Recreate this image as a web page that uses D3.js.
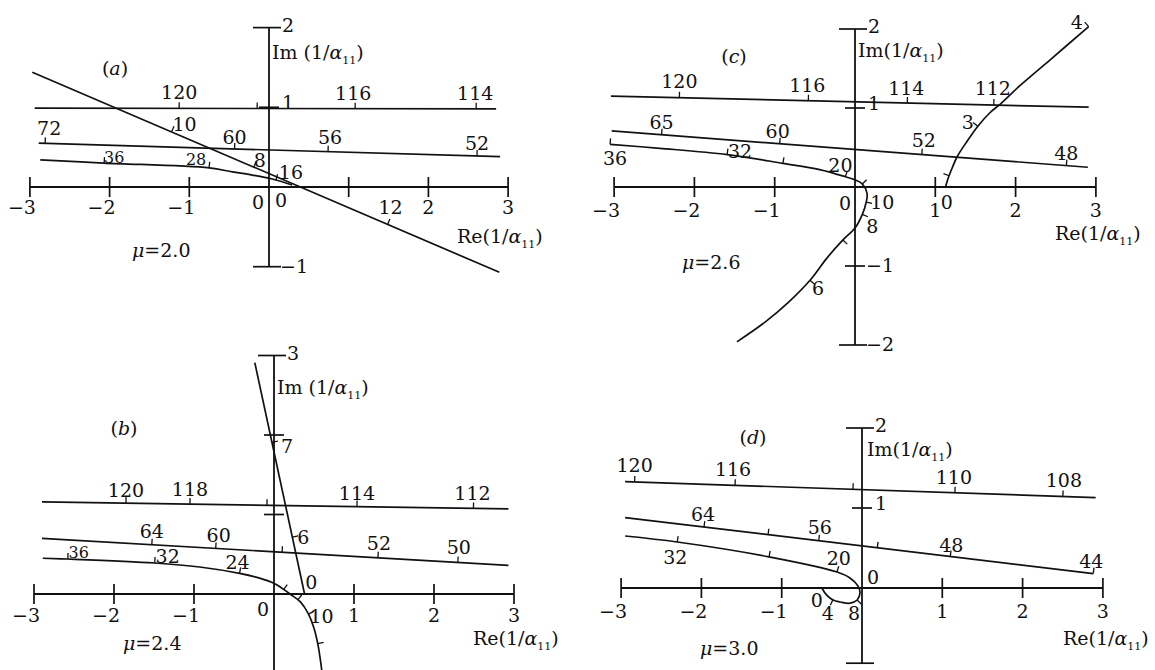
<!DOCTYPE html>
<html>
<head>
<meta charset="utf-8">
<script src="https://cdn.jsdelivr.net/npm/d3@7"></script>
<style>
  body { margin: 0; background: #fff; }
  svg { display: block; }
  text { font-family: "DejaVu Serif", "Liberation Serif", serif; fill: #111; }
</style>
</head>
<body>
<svg id="fig" width="1155" height="670"></svg>
<script>
// ---------- data: loci of 1/alpha11 in the complex plane (Re, Im) ----------
const xTickValues = [-3, -2, -1, 0, 1, 2, 3];

// (a) mu = 2.0
const aLineSlant = [[-2.97, 1.44], [2.89, -1.07]];
const aLineSlantTicks = [[-1.22, 0.69, "10"], [-0.19, 0.25, "8"], [1.49, -0.47, "12"]];
const aLine120 = [[-2.94, 0.99], [2.85, 0.98]];
const aLine120Ticks = [[-1.13, 0.99, "120"], [-0.15, 0.99, ""], [1.08, 0.985, "116"], [2.6, 0.98, "114"]];
const aLine72 = [[-2.89, 0.55], [2.90, 0.38]];
const aLine72Ticks = [[-2.81, 0.54, "72"], [-0.43, 0.47, "60"], [0.74, 0.43, "56"], [2.61, 0.39, "52"]];
const aCurve36 = [[-2.87, 0.34], [-2.07, 0.30], [-0.75, 0.24], [-0.46, 0.19], [-0.21, 0.15], [0.04, 0.10], [0.29, 0.025]];
const aCurve36Ticks = [[-2.07, 0.30, "36"], [-0.75, 0.24, "28"], [0.09, 0.09, "16"], [0.29, 0.025, "0"]];
const aXLabels = [-3, -2, -1, 2, 3];
const aYLabels = [2, 1, -1];

// (b) mu = 2.4
const bLineSteep = [[-0.24, 2.91], [0.38, 0.01]];
const bLineSteepTicks = [[-0.01, 1.91, "7"], [0.26, 0.72, "6"], [0.38, 0.01, "0"]];
const bLine120 = [[-2.90, 1.16], [2.93, 1.07]];
const bLine120Ticks = [[-1.85, 1.143, "120"], [-1.05, 1.131, "118"], [-0.09, 1.116, ""], [1.04, 1.099, "114"], [2.49, 1.076, "112"]];
const bLine64 = [[-2.90, 0.70], [2.93, 0.36]];
const bLine64Ticks = [[-1.53, 0.62, "64"], [-0.73, 0.575, "60"], [0.10, 0.525, ""], [1.30, 0.455, "52"], [2.30, 0.397, "50"]];
const bCurve36 = [[-2.89, 0.45], [-2.58, 0.44], [-1.49, 0.39], [-0.93, 0.34], [-0.43, 0.26], [-0.18, 0.20], [0.01, 0.13],
                  [0.20, 0.0], [0.33, -0.10], [0.43, -0.25], [0.50, -0.43], [0.55, -0.64], [0.60, -0.98]];
const bCurve36Ticks = [[-2.58, 0.44, "36"], [-1.49, 0.39, "32"], [-0.43, 0.26, "24"], [0.14, 0.08, ""], [0.30, -0.07, ""],
                       [0.43, -0.25, "10"], [0.55, -0.62, ""]];
const bXLabels = [-3, -2, -1, 1, 2, 3];
const bYLabels = [3];

// (c) mu = 2.6
const cLine120 = [[-3.04, 1.15], [2.91, 1.01]];
const cLine120Ticks = [[-2.19, 1.13, "120"], [-0.58, 1.092, "116"], [0.65, 1.064, "114"], [1.73, 1.038, "112"]];
const cLine65 = [[-3.03, 0.71], [2.90, 0.25]];
const cLine65Ticks = [[-2.41, 0.662, "65"], [-0.94, 0.548, "60"], [0.83, 0.41, "52"], [2.63, 0.27, "48"]];
const cCurve36 = [[-3.05, 0.54], [-2.43, 0.49], [-1.59, 0.41], [-0.90, 0.30], [-0.44, 0.22], [-0.12, 0.13], [0.0, 0.09],
                  [0.09, 0.04], [0.15, -0.08], [0.14, -0.19], [0.09, -0.35], [0.0, -0.52], [-0.15, -0.67], [-0.35, -0.90],
                  [-0.56, -1.18], [-0.83, -1.46], [-1.12, -1.71], [-1.47, -1.96]];
const cCurve36Ticks = [[-3.05, 0.54, "36"], [-1.59, 0.41, "32"], [-0.90, 0.30, ""], [-0.12, 0.13, "20"], [0.09, 0.04, ""],
                       [0.14, -0.19, "10"], [0.09, -0.35, "8"], [-0.15, -0.67, ""], [-0.56, -1.18, "6"]];
const cCurve0 = [[1.13, 0.01], [1.16, 0.11], [1.21, 0.24], [1.27, 0.38], [1.39, 0.57], [1.53, 0.77], [1.68, 0.94],
                 [1.81, 1.05], [2.05, 1.28], [2.43, 1.61], [2.91, 2.03]];
const cCurve0Ticks = [[1.13, 0.01, "0"], [1.15, 0.15, ""], [1.53, 0.77, "3"], [2.91, 2.03, "4"]];
const cXLabels = [-3, -2, -1, 1, 2, 3];
const cYLabels = [2, 1, -1, -2];

// (d) mu = 3.0
const dLine120 = [[-2.95, 1.33], [2.91, 1.13]];
const dLine120Ticks = [[-2.83, 1.326, "120"], [-1.58, 1.283, "116"], [-0.11, 1.233, ""], [1.16, 1.19, "110"], [2.50, 1.144, "108"]];
const dLine64 = [[-2.95, 0.88], [2.88, 0.18]];
const dLine64Ticks = [[-1.97, 0.762, "64"], [-1.17, 0.666, ""], [-0.54, 0.59, "56"], [0.19, 0.503, ""], [1.10, 0.394, "48"], [2.88, 0.18, "44"]];
const dCurve32 = [[-2.95, 0.65], [-2.30, 0.575], [-1.16, 0.39], [-0.31, 0.20], [-0.15, 0.125], [-0.05, 0.025], [-0.025, -0.06],
                  [-0.06, -0.15], [-0.15, -0.19], [-0.27, -0.175], [-0.36, -0.15], [-0.44, -0.09], [-0.50, 0.0]];
const dCurve32Ticks = [[-2.30, 0.575, "32"], [-1.16, 0.39, ""], [-0.31, 0.20, "20"], [-0.06, -0.15, "8"], [-0.36, -0.15, "4"], [-0.50, 0.0, "0"]];
const dXLabels = [-3, -2, -1, 1, 2, 3];
const dYLabels = [2, 1];

// ---------- layout: label offsets [dx, dy, tickLength, fontSize] per tick ----------
const aLineSlantLbl = [[13, -8], [6, -7], [3, -17]];
const aLine120Lbl = [[0, -16], [0, 0], [-2, -16], [-1, -16]];
const aLine72Lbl = [[4, -15], [0, -12], [2, -15], [0, -13]];
const aCurve36Lbl = [[10, -6, 6, 16], [-13, -8, 6, 16], [15, -8], [-11, 15, 0]];

const bLineSteepLbl = [[15, 4], [11, 0], [7, -11, 0]];
const bLine120Lbl = [[0, -13], [0, -15], [0, 0], [0, -14], [-1, -15]];
const bLine64Lbl = [[0, -14], [3, -13], [0, 0], [1, -15], [1, -15]];
const bCurve36Lbl = [[11, -7, 6, 16], [13, -7], [-2, -11], [0, 0], [0, 0], [13, 2], [0, 0]];

const cLine120Lbl = [[0, -17], [-1, -16], [-1, -15], [-1, -17]];
const cLine65Lbl = [[0, -13], [-2, -13], [2, -15], [0, -13]];
const cCurve36Lbl = [[5, 14], [13, -4], [0, 0], [-5, -12], [0, 0], [16, 0], [10, 12], [0, 0], [8, 8]];
const cCurve0Lbl = [[1, 16, 0], [0, 0], [-10, -4], [-12, -5]];

const dLine120Lbl = [[0, -17], [-2, -16], [0, 0], [-1, -16], [1, -16]];
const dLine64Lbl = [[-1, -13], [0, 0], [1, -14], [0, 0], [1, -11], [-2, -13]];
const dCurve32Lbl = [[-2, 15], [0, 0], [2, -14], [-3, 13], [-5, 13], [-5, 12, 0]];

const panels = [
  { tag: "a", mu: "2.0", ox: 269, oy: 187, ux: 79.7, uy: 79.7, yExt: [-1, 2], xLabelDy: 20,
    xLabels: aXLabels, yLabels: aYLabels, origin: [-11, 15],
    imTitle: [272, 59, "Im ("], reTitle: [457, 243], panelLbl: [115, 68], muPos: [132, 257],
    traces: [[aLine120, aLine120Ticks, aLine120Lbl], [aLine72, aLine72Ticks, aLine72Lbl],
             [aCurve36, aCurve36Ticks, aCurve36Lbl], [aLineSlant, aLineSlantTicks, aLineSlantLbl]] },
  { tag: "b", mu: "2.4", ox: 274, oy: 594, ux: 80, uy: 79.5, yExt: [-1, 3], xLabelDy: 21,
    xLabels: bXLabels, yLabels: bYLabels, origin: [-11, 15],
    imTitle: [277, 394, "Im ("], reTitle: [473, 645], panelLbl: [124, 428], muPos: [123, 650],
    traces: [[bLine120, bLine120Ticks, bLine120Lbl], [bLine64, bLine64Ticks, bLine64Lbl],
             [bCurve36, bCurve36Ticks, bCurve36Lbl], [bLineSteep, bLineSteepTicks, bLineSteepLbl]] },
  { tag: "c", mu: "2.6", ox: 855, oy: 187, ux: 80.3, uy: 79, yExt: [-2, 2], xLabelDy: 23,
    xLabels: cXLabels, yLabels: cYLabels, origin: [-10, 16],
    imTitle: [858, 57, "Im("], reTitle: [1055, 240], panelLbl: [734, 56], muPos: [682, 269],
    traces: [[cLine120, cLine120Ticks, cLine120Lbl], [cLine65, cLine65Ticks, cLine65Lbl],
             [cCurve36, cCurve36Ticks, cCurve36Lbl], [cCurve0, cCurve0Ticks, cCurve0Lbl]] },
  { tag: "d", mu: "3.0", ox: 862, oy: 588, ux: 80.3, uy: 80, yExt: [-0.94, 2], xLabelDy: 23,
    xLabels: dXLabels, yLabels: dYLabels, origin: [11, -11],
    imTitle: [867, 456, "Im("], reTitle: [1063, 645], panelLbl: [753, 437], muPos: [700, 655],
    traces: [[dLine120, dLine120Ticks, dLine120Lbl], [dLine64, dLine64Ticks, dLine64Lbl],
             [dCurve32, dCurve32Ticks, dCurve32Lbl]] }
];

// ---------- drawing ----------
const svg = d3.select("#fig");
const INK = "#111";
const FS = 19;

function fmt(v) { return v < 0 ? "\u2212" + Math.abs(v) : String(v); }

function axisTitle(g, x, y, prefix) {
  const t = g.append("text").attr("x", x).attr("y", y).attr("font-size", FS);
  t.append("tspan").text(prefix + "1/");
  t.append("tspan").attr("font-style", "italic").text("\u03b1");
  t.append("tspan").attr("font-size", 11).attr("dy", 5).text("11");
  t.append("tspan").attr("dy", -5).text(")");
}

panels.forEach(p => {
  const g = svg.append("g").attr("class", "panel-" + p.tag);
  const x = d3.scaleLinear().domain([-3, 3]).range([p.ox - 3 * p.ux, p.ox + 3 * p.ux]);
  const y = d3.scaleLinear().domain(p.yExt).range([p.oy - p.yExt[0] * p.uy, p.oy - p.yExt[1] * p.uy]);

  // real axis
  g.append("line").attr("x1", x(-3)).attr("x2", x(3)).attr("y1", y(0)).attr("y2", y(0))
    .attr("stroke", INK).attr("stroke-width", 1.8);
  xTickValues.filter(v => v !== 0).forEach(v => {
    g.append("line").attr("x1", x(v)).attr("x2", x(v)).attr("y1", y(0) - 10).attr("y2", y(0) + 10)
      .attr("stroke", INK).attr("stroke-width", 1.7);
  });
  p.xLabels.forEach(v => {
    g.append("text").attr("x", v < 0 ? x(v) + 6 : x(v)).attr("y", y(0) + p.xLabelDy)
      .attr("text-anchor", v < 0 ? "end" : "middle").attr("dominant-baseline", "central")
      .attr("font-size", FS).text(fmt(v));
  });
  g.append("text").attr("x", x(0) + p.origin[0]).attr("y", y(0) + p.origin[1])
    .attr("text-anchor", "middle").attr("dominant-baseline", "central").attr("font-size", FS).text("0");

  // imaginary axis
  const yBottom = Math.min(y(p.yExt[0]), 672);
  g.append("line").attr("x1", x(0)).attr("x2", x(0)).attr("y1", y(p.yExt[1])).attr("y2", yBottom)
    .attr("stroke", INK).attr("stroke-width", 1.8);
  const yTicks = d3.range(Math.ceil(p.yExt[0]), Math.floor(p.yExt[1]) + 1).filter(v => v !== 0);
  yTicks.forEach(v => {
    const isEnd = v === p.yExt[1] || v === p.yExt[0];
    g.append("line").attr("x1", x(0) - (isEnd ? 16 : 10)).attr("x2", x(0) + (isEnd ? 12 : 10))
      .attr("y1", y(v)).attr("y2", y(v)).attr("stroke", INK).attr("stroke-width", 1.7);
  });
  if (p.yExt[0] % 1 !== 0) {
    g.append("line").attr("x1", x(0) - 16).attr("x2", x(0) + 12)
      .attr("y1", y(p.yExt[0])).attr("y2", y(p.yExt[0])).attr("stroke", INK).attr("stroke-width", 1.7);
  }
  p.yLabels.forEach(v => {
    const lift = v === 1 ? 5 : (v === p.yExt[1] ? 3 : 1);
    g.append("text").attr("x", x(0) + (v < 0 ? 11 : 13)).attr("y", y(v) - lift)
      .attr("dominant-baseline", "central").attr("font-size", FS).text(fmt(v));
  });

  axisTitle(g, p.imTitle[0], p.imTitle[1], p.imTitle[2]);
  axisTitle(g, p.reTitle[0], p.reTitle[1], "Re(");

  const pl = g.append("text").attr("x", p.panelLbl[0]).attr("y", p.panelLbl[1])
    .attr("text-anchor", "middle").attr("dominant-baseline", "central").attr("font-size", FS);
  pl.append("tspan").text("(");
  pl.append("tspan").attr("font-style", "italic").text(p.tag);
  pl.append("tspan").text(")");

  const mu = g.append("text").attr("x", p.muPos[0]).attr("y", p.muPos[1]).attr("font-size", FS);
  mu.append("tspan").attr("font-style", "italic").text("\u03bc");
  mu.append("tspan").text("=" + p.mu);

  // loci with their parameter ticks
  const line = d3.line().x(d => x(d[0])).y(d => y(d[1])).curve(d3.curveCatmullRom.alpha(0.5));
  p.traces.forEach(([pts, ticks, lbl]) => {
    const path = g.append("path").datum(pts).attr("d", line)
      .attr("fill", "none").attr("stroke", INK).attr("stroke-width", 1.7);
    const node = path.node();
    const total = node.getTotalLength();
    const samples = d3.range(0, total + 0.5, 0.5).map(l => {
      const q = node.getPointAtLength(Math.min(l, total));
      return { l: Math.min(l, total), x: q.x, y: q.y };
    });
    ticks.forEach((t, i) => {
      const tx = x(t[0]), ty = y(t[1]);
      const best = d3.least(samples, s => (s.x - tx) ** 2 + (s.y - ty) ** 2);
      const a = node.getPointAtLength(Math.max(0, best.l - 2));
      const b = node.getPointAtLength(Math.min(total, best.l + 2));
      let dx = b.x - a.x, dy = b.y - a.y;
      const len = Math.hypot(dx, dy) || 1;
      dx /= len; dy /= len;
      const nx = dy, ny = -dx;
      const L = lbl[i] || [0, 0];
      const tickLen = L[2] === undefined ? 6 : L[2];
      if (tickLen > 0) {
        g.append("line").attr("x1", best.x).attr("y1", best.y)
          .attr("x2", best.x + nx * tickLen).attr("y2", best.y + ny * tickLen)
          .attr("stroke", INK).attr("stroke-width", 1.3);
      }
      if (t[2]) {
        g.append("text").attr("x", best.x + L[0]).attr("y", best.y + L[1])
          .attr("text-anchor", "middle").attr("dominant-baseline", "central")
          .attr("font-size", L[3] || FS).text(t[2]);
      }
    });
  });
});
</script>
</body>
</html>
